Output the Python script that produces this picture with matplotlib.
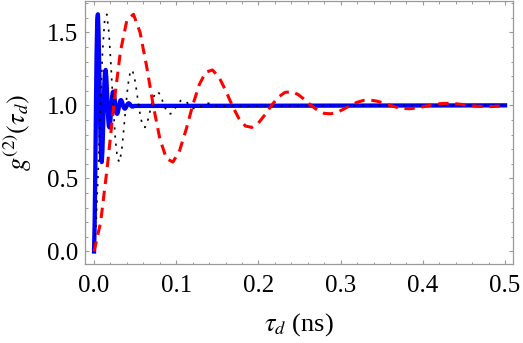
import numpy as np
import matplotlib
matplotlib.use("Agg")
import matplotlib.pyplot as plt

plt.rcParams['font.family'] = ['Liberation Serif', 'DejaVu Serif']
plt.rcParams['mathtext.fontset'] = 'stix'

# g2 samples, 12 samples per oscillation period
# (all three curves share the same damped shape, only the period differs)
g_samples = [0.000, 0.200, 0.573, 1.000, 1.365, 1.584, 1.623, 1.499, 1.266, 1.000,
             0.773, 0.636, 0.612, 0.689, 0.834, 1.000, 1.142, 1.227, 1.242, 1.193,
             1.103, 1.000, 0.912, 0.859, 0.849, 0.879, 0.936, 1.000, 1.055, 1.088,
             1.094, 1.075, 1.040, 1.000, 0.966, 0.945, 0.942, 0.953, 0.975, 1.000,
             1.021, 1.034, 1.036, 1.029, 1.016, 1.000, 0.987, 0.979, 0.977, 0.982,
             0.990, 1.000, 1.008, 1.013, 1.014, 1.011, 1.006, 1.000, 0.995, 0.992,
             0.991, 0.993, 0.996]

# oscillation periods (ns) read from peak spacing
red_period = 0.096
black_period = 0.031
blue_period = 0.0094

t_end = 0.5
g_end = 1.0

def curve(period):
    t = np.arange(len(g_samples)) * period / 12
    return np.append(t, t_end), np.append(g_samples, g_end)

fig = plt.figure(figsize=(5.23, 3.43), dpi=100)
ax = fig.add_axes([85/523, 1 - 264/343, 428/523, 263/343])

t, g = curve(blue_period)
ax.plot(t, g, color='#0000ff', lw=3.1, solid_joinstyle='round', zorder=2)
t, g = curve(black_period)
ax.plot(t, g, color='black', lw=1.2, dashes=(1.3, 3.6), zorder=3)
t, g = curve(red_period)
ax.plot(t, g, color='#ff0000', lw=2.2, dashes=(3.4, 2.2), zorder=4)

ax.set_xlim(-0.011, 0.5097)
ax.set_ylim(-0.0856, 1.714)
ax.set_xticks([0.0, 0.1, 0.2, 0.3, 0.4, 0.5])
ax.set_xticks(np.arange(0, 0.51, 0.02), minor=True)
ax.set_yticks([0.0, 0.5, 1.0, 1.5])
ax.set_yticks(np.arange(0, 1.71, 0.1), minor=True)

for s in ax.spines.values():
    s.set_color('#999999')
    s.set_linewidth(0.9)
ax.tick_params(which='both', direction='in', top=True, right=True,
               color='#999999', labelsize=18)
ax.tick_params(which='major', length=3.2, width=0.8)
ax.tick_params(which='minor', length=1.8, width=0.7)
ax.tick_params(axis='x', pad=8)
ax.tick_params(axis='y', pad=5)

ax.set_xlabel(r'$\tau_d$ (ns)', fontsize=19, labelpad=10)
ax.set_ylabel(r'$g^{(2)}(\tau_d)$', fontsize=19, labelpad=9)

fig.savefig('out.png', dpi=100)
